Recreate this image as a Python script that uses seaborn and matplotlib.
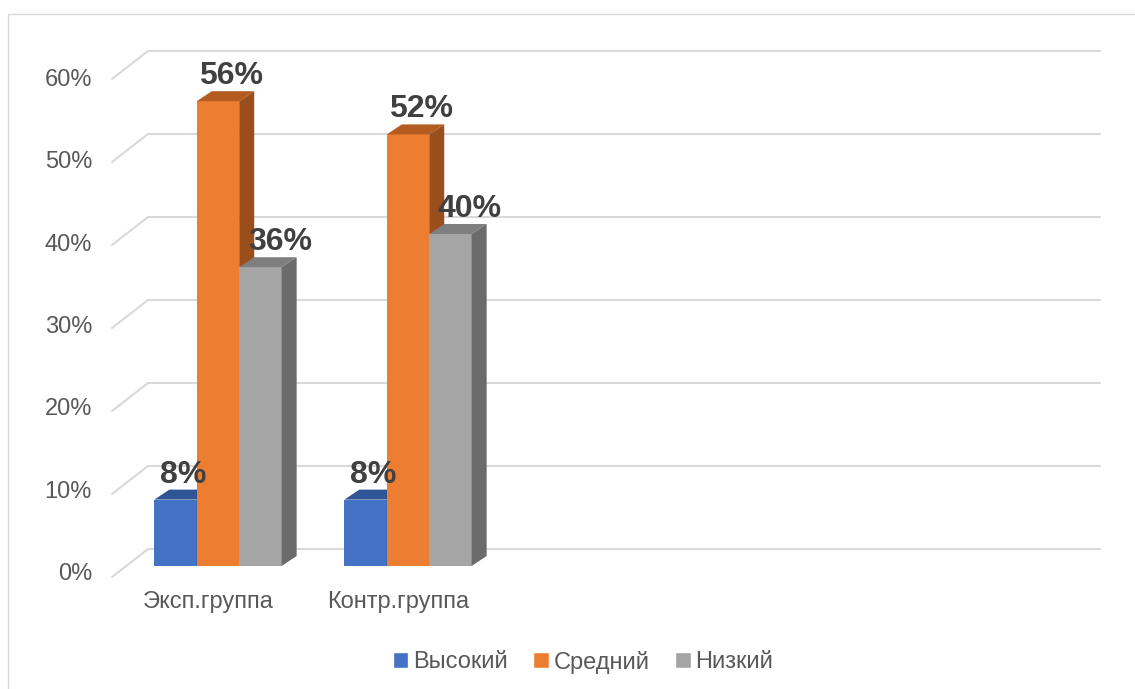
import matplotlib
matplotlib.use("Agg")
import matplotlib.pyplot as plt
import matplotlib.transforms as mtransforms
import seaborn as sns
import pandas as pd
from matplotlib.patches import Polygon, Rectangle

# данные
groups = ["Эксп.группа", "Контр.группа"]
levels = ["Высокий", "Средний", "Низкий"]
high = [8, 8]
mid = [56, 52]
low = [36, 40]
y_ticks = [0, 10, 20, 30, 40, 50, 60]
n_slots = 5  # в Excel ось рассчитана на 5 категорий

colors = ["#4472C4", "#ED7D31", "#A5A5A5"]
top_colors = ["#2F5597", "#B45B20", "#7F7F7F"]
side_colors = ["#2A4C88", "#9A4E1C", "#6B6B6B"]

df = pd.DataFrame({
    "group": groups * 3,
    "level": [levels[0]] * 2 + [levels[1]] * 2 + [levels[2]] * 2,
    "value": high + mid + low,
})

sns.set_theme(style="white")
plt.rcParams["font.family"] = ["Liberation Sans", "DejaVu Sans"]

W, H = 1135, 689
fig = plt.figure(figsize=(W / 100, H / 100), dpi=100)
ax = fig.add_axes([123 / W, (H - 566) / H, 950 / W, 498 / H])

sns.barplot(data=df, x="group", y="value", hue="level", hue_order=levels,
            palette=colors, width=0.67, saturation=1, ax=ax, legend=True)
handles, labels = ax.get_legend_handles_labels()
ax.get_legend().remove()

ax.set_xlim(-0.5, n_slots - 0.5)
ax.set_ylim(0, 60)
for s in ax.spines.values():
    s.set_visible(False)
ax.set_yticks([])
ax.set_xlabel("")
ax.set_ylabel("")
ax.tick_params(axis="x", length=0, pad=18, labelsize=17, labelcolor="#595959")
shift = mtransforms.ScaledTranslation(-10 / 100, 0, fig.dpi_scale_trans)
for lab in ax.get_xticklabels():
    lab.set_transform(lab.get_transform() + shift)

to_disp = ax.transData.transform
to_data = ax.transData.inverted().transform

# задняя стенка: линии сетки с диагоналями к передней плоскости
x_right = to_disp((n_slots - 0.5, 0))[0]
for v in y_ticks:
    px, py = to_disp((-0.5, v))
    pts = [(px - 11, py - 11), (px + 25, py + 17), (x_right + 27, py + 17)]
    d = to_data(pts)
    ax.plot(d[:, 0], d[:, 1], color="#D9D9D9", lw=1.5, zorder=1, clip_on=False)
    tx, ty = to_data([(px - 31, py - 8 - v / 15)])[0]
    ax.text(tx, ty, f"{v}%", ha="right", va="center", fontsize=17,
            color="#595959", clip_on=False)

# объемные столбцы
dx, dy = 15, 10
for i, cont in enumerate(ax.containers):
    for bar in cont:
        x0 = bar.get_x()
        x1 = x0 + bar.get_width()
        h = bar.get_height()
        bar.set_zorder(3 + i)
        bar.set_edgecolor("none")
        (ax0, ay0), (ax1, ay1) = to_disp([(x0, 0), (x1, h)])
        top = to_data([(ax0, ay1), (ax1, ay1), (ax1 + dx, ay1 + dy), (ax0 + dx, ay1 + dy)])
        side = to_data([(ax1, ay0), (ax1, ay1), (ax1 + dx, ay1 + dy), (ax1 + dx, ay0 + dy)])
        ax.add_patch(Polygon(top, closed=True, fc=top_colors[i], ec="none",
                             zorder=3 + i, clip_on=False))
        ax.add_patch(Polygon(side, closed=True, fc=side_colors[i], ec="none",
                             zorder=3 + i, clip_on=False))
        lx, ly = to_data([((ax0 + ax1) / 2 + dx / 2 + 6 * i, ay1 + dy)])[0]
        ax.text(lx, ly, f"{h:.0f}%", ha="center", va="bottom", fontsize=23,
                fontweight="bold", color="#404040", zorder=10, clip_on=False)

fig.legend(handles, labels, loc="center", bbox_to_anchor=(583 / W, 1 - 662 / H),
           ncol=3, frameon=False, fontsize=17, handlelength=0.65, handleheight=0.65,
           handletextpad=0.2, columnspacing=1.1, labelcolor="#595959")

# рамка области диаграммы
fig.add_artist(Rectangle((8 / W, -0.1), 1.2, 1 - 14 / H + 0.1, transform=fig.transFigure,
                         fill=False, ec="#D9D9D9", lw=1))

fig.savefig("out.png", dpi=100)
